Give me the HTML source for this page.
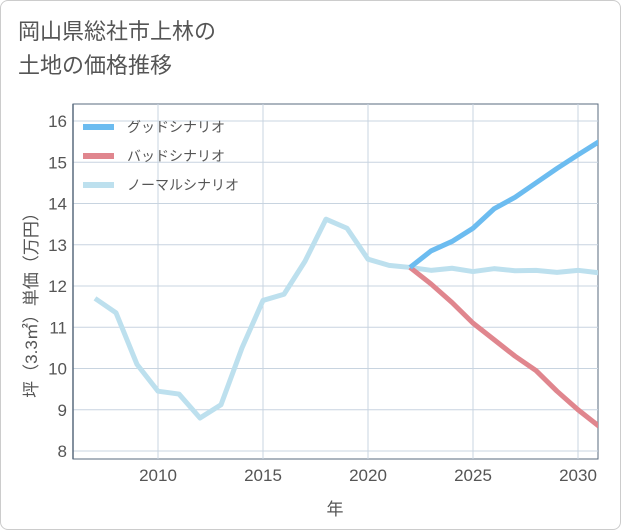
<!DOCTYPE html>
<html><head><meta charset="utf-8">
<style>
html,body{margin:0;padding:0;background:#fff;}
#wrap{width:619px;height:528px;border:1px solid #ccc;border-radius:8px;position:relative;overflow:hidden;font-family:"Liberation Sans","Noto Sans CJK JP",sans-serif;}
#title{position:absolute;left:17px;top:14px;font-size:22px;line-height:34px;color:#555;}
svg{position:absolute;left:0;top:0;}
</style></head>
<body>
<div id="wrap">
<div id="title">岡山県総社市上林の<br>土地の価格推移</div>
<svg id="chart" width="621" height="530"></svg>
</div>
<script>
const years=[2007,2008,2009,2010,2011,2012,2013,2014,2015,2016,2017,2018,2019,2020,2021,2022,2023,2024,2025,2026,2027,2028,2029,2030,2031];
const normalValues=[11.7,11.35,10.1,9.45,9.38,8.8,9.12,10.5,11.65,11.8,12.6,13.62,13.4,12.65,12.5,12.45,12.38,12.43,12.35,12.42,12.37,12.38,12.33,12.38,12.32];
const scenarioYears=[2022,2023,2024,2025,2026,2027,2028,2029,2030,2031];
const goodValues=[12.45,12.85,13.08,13.4,13.87,14.15,14.5,14.85,15.18,15.5];
const badValues=[12.45,12.05,11.6,11.1,10.7,10.3,9.95,9.45,9.0,8.6];
const xTicks=[2010,2015,2020,2025,2030];
const yTicks=[8,9,10,11,12,13,14,15,16];
const ns="http://www.w3.org/2000/svg";
const svg=document.getElementById('chart');
const L=72,R=597,T=103,B=458;
const x=v=>157+(v-2010)*21;
const y=v=>450-(v-8)*41.25;
function mk(tag,attrs,parent){const e=document.createElementNS(ns,tag);for(const k in attrs)e.setAttribute(k,attrs[k]);(parent||svg).appendChild(e);return e;}
const frame=mk('rect',{x:L,y:T,width:R-L,height:B-T,fill:'#fff',stroke:'#5a6b7f','stroke-width':1});


yTicks.forEach(t=>{
  const g=mk('line',{x1:L,x2:R,y1:y(t),y2:y(t),stroke:'#c8d4e0','stroke-width':1});
  
  
  const tx=mk('text',{x:L-6,y:y(t)+6,'text-anchor':'end','font-size':17,fill:'#555'});
  tx.textContent=t;
  
  
});
xTicks.forEach(t=>{
  const g=mk('line',{x1:x(t),x2:x(t),y1:T,y2:B,stroke:'#c8d4e0','stroke-width':1});
  
  
  const tx=mk('text',{x:x(t),y:B+22,'text-anchor':'middle','font-size':17,fill:'#555'});
  tx.textContent=t;
  
  
});
const ax=mk('line',{x1:L,x2:L,y1:T,y2:B,stroke:'#5a6b7f','stroke-width':1.5});


const xt=mk('text',{x:334,y:514,'text-anchor':'middle','font-size':17,fill:'#555'});
xt.textContent='年';


const yt=mk('text',{x:0,y:0,'text-anchor':'middle','font-size':17,fill:'#555',transform:'translate(36,300) rotate(-90)'});
yt.textContent='坪（3.3㎡）単価（万円）';


const clip=mk('clipPath',{id:'cp'});mk('rect',{x:L,y:T,width:R-L,height:B-T},clip);
function line(xs,vs,color,name){
  const p=mk('polyline',{points:xs.map((v,i)=>x(v)+','+y(vs[i])).join(' '),fill:'none',stroke:color,'stroke-width':5,'stroke-linejoin':'round','clip-path':'url(#cp)'});
  
  
}
line(years,normalValues,'#bde0ee','normal-scenario-line');
line(scenarioYears,badValues,'#e0868e','bad-scenario-line');
line(scenarioYears,goodValues,'#6cbcf0','good-scenario-line');
const legend=[['グッドシナリオ','#6cbcf0'],['バッドシナリオ','#e0868e'],['ノーマルシナリオ','#bde0ee']];
legend.forEach((d,i)=>{
  const yy=126+i*29;
  const s=mk('rect',{x:82,y:yy-3,width:31,height:6,fill:d[1]});
  
  
  const t=mk('text',{x:126,y:yy+5,'font-size':14,fill:'#555'});
  t.textContent=d[0];
  
  
});
</script>
</body></html>
